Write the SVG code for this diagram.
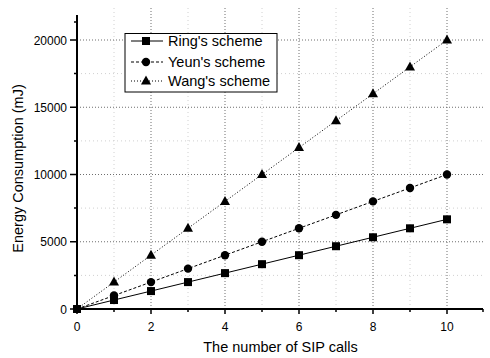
<svg xmlns="http://www.w3.org/2000/svg" width="490" height="358" viewBox="0 0 490 358">
<style>
text{font-family:"Liberation Sans",Arial,sans-serif;fill:#000}
.tick{font-size:12px}
.ytick{text-anchor:end}
.xtick{text-anchor:middle}
.title{font-size:14.5px}
.leg{font-size:14.5px}
.grid{stroke:#6e6e6e;stroke-width:1;stroke-dasharray:1 2;fill:none}
.mgrid{stroke:#d0d0d0;stroke-width:1;stroke-dasharray:1 3;fill:none}
.axis{stroke:#000;stroke-width:2;fill:none}
.tk{stroke:#000;stroke-width:1.5;fill:none}
.ring{stroke:#000;stroke-width:1;fill:none}
.yeun{stroke:#000;stroke-width:1;stroke-dasharray:3 2;fill:none}
.wang{stroke:#000;stroke-width:1;stroke-dasharray:1 2;fill:none}
</style>
<defs>
<rect id="sq" x="-4" y="-4" width="8" height="8" fill="#000"/>
<circle id="ci" r="4.2" fill="#000"/>
<polygon id="tr" points="0,-5.5 5,3.5 -5,3.5" fill="#000"/>
</defs>
<rect width="490" height="358" fill="#fff"/>
<g id="grid">
<path class="mgrid" d="M114 8V309M188 8V309M262 8V309M336 8V309M410 8V309M77 275.4H483M77 208.1H483M77 140.9H483M77 73.6H483"/>
<path class="grid" d="M151 8V309M225 8V309M299 8V309M373 8V309M447 8V309M77 241.75H483M77 174.5H483M77 107.25H483M77 40H483"/>
</g>
<g id="axes">
<path class="axis" d="M77 15V309H483"/>
<path class="tk" d="M70 309H77M70 241.75H77M70 174.5H77M70 107.25H77M70 40H77M74 275.4H77M74 208.1H77M74 140.9H77M74 73.6H77M74 22H77"/>
<path class="tk" d="M77 309V314M151 309V314M225 309V314M299 309V314M373 309V314M447 309V314M114 309V312M188 309V312M262 309V312M336 309V312M410 309V312M483 309V312"/>
<text class="tick ytick" x="67" y="313.5">0</text>
<text class="tick ytick" x="67" y="246.25">5000</text>
<text class="tick ytick" x="67" y="179">10000</text>
<text class="tick ytick" x="67" y="111.75">15000</text>
<text class="tick ytick" x="67" y="44.5">20000</text>
<text class="tick xtick" x="77" y="331">0</text>
<text class="tick xtick" x="151" y="331">2</text>
<text class="tick xtick" x="225" y="331">4</text>
<text class="tick xtick" x="299" y="331">6</text>
<text class="tick xtick" x="373" y="331">8</text>
<text class="tick xtick" x="447" y="331">10</text>
<text class="title" x="280.5" y="352" text-anchor="middle">The number of SIP calls</text>
<text class="title" transform="translate(23,168.5) rotate(-90)" text-anchor="middle" font-size="14.8">Energy Consumption (mJ)</text>
</g>
<g id="connectors">
<polyline id="ring-line" class="ring" points="77,309 114,300.03 151,291.07 188,282.1 225,273.13 262,264.17 299,255.2 336,246.23 373,237.27 410,228.3 447,219.33"/>
<polyline id="yeun-line" class="yeun" points="77,309 114,295.55 151,282.1 188,268.65 225,255.2 262,241.75 299,228.3 336,214.85 373,201.4 410,187.95 447,174.5"/>
<polyline id="wang-line" class="wang" points="77,309 114,282.1 151,255.2 188,228.3 225,201.4 262,174.5 299,147.6 336,120.7 373,93.8 410,66.9 447,40"/>
</g>
<g id="ring-points">
<use href="#sq" x="77" y="309"/><use href="#sq" x="114" y="300.03"/><use href="#sq" x="151" y="291.07"/><use href="#sq" x="188" y="282.1"/><use href="#sq" x="225" y="273.13"/><use href="#sq" x="262" y="264.17"/><use href="#sq" x="299" y="255.2"/><use href="#sq" x="336" y="246.23"/><use href="#sq" x="373" y="237.27"/><use href="#sq" x="410" y="228.3"/><use href="#sq" x="447" y="219.33"/>
</g>
<g id="yeun-points">
<use href="#ci" x="114" y="295.55"/><use href="#ci" x="151" y="282.1"/><use href="#ci" x="188" y="268.65"/><use href="#ci" x="225" y="255.2"/><use href="#ci" x="262" y="241.75"/><use href="#ci" x="299" y="228.3"/><use href="#ci" x="336" y="214.85"/><use href="#ci" x="373" y="201.4"/><use href="#ci" x="410" y="187.95"/><use href="#ci" x="447" y="174.5"/>
</g>
<g id="wang-points">
<use href="#tr" x="114" y="282.1"/><use href="#tr" x="151" y="255.2"/><use href="#tr" x="188" y="228.3"/><use href="#tr" x="225" y="201.4"/><use href="#tr" x="262" y="174.5"/><use href="#tr" x="299" y="147.6"/><use href="#tr" x="336" y="120.7"/><use href="#tr" x="373" y="93.8"/><use href="#tr" x="410" y="66.9"/><use href="#tr" x="447" y="40"/>
</g>
<g id="legend">
<rect x="125" y="33.5" width="152" height="58.5" fill="#fff" stroke="#000" stroke-width="1"/>
<line class="ring" x1="131" y1="41" x2="163" y2="41"/><use href="#sq" x="146" y="41"/>
<text class="leg" x="168" y="46">Ring's scheme</text>
<line class="yeun" x1="131" y1="62" x2="163" y2="62"/><use href="#ci" x="146" y="62"/>
<text class="leg" x="168" y="67">Yeun's scheme</text>
<line class="wang" x1="131" y1="81" x2="163" y2="81"/><use href="#tr" x="146" y="81"/>
<text class="leg" x="168" y="86">Wang's scheme</text>
</g>
</svg>
